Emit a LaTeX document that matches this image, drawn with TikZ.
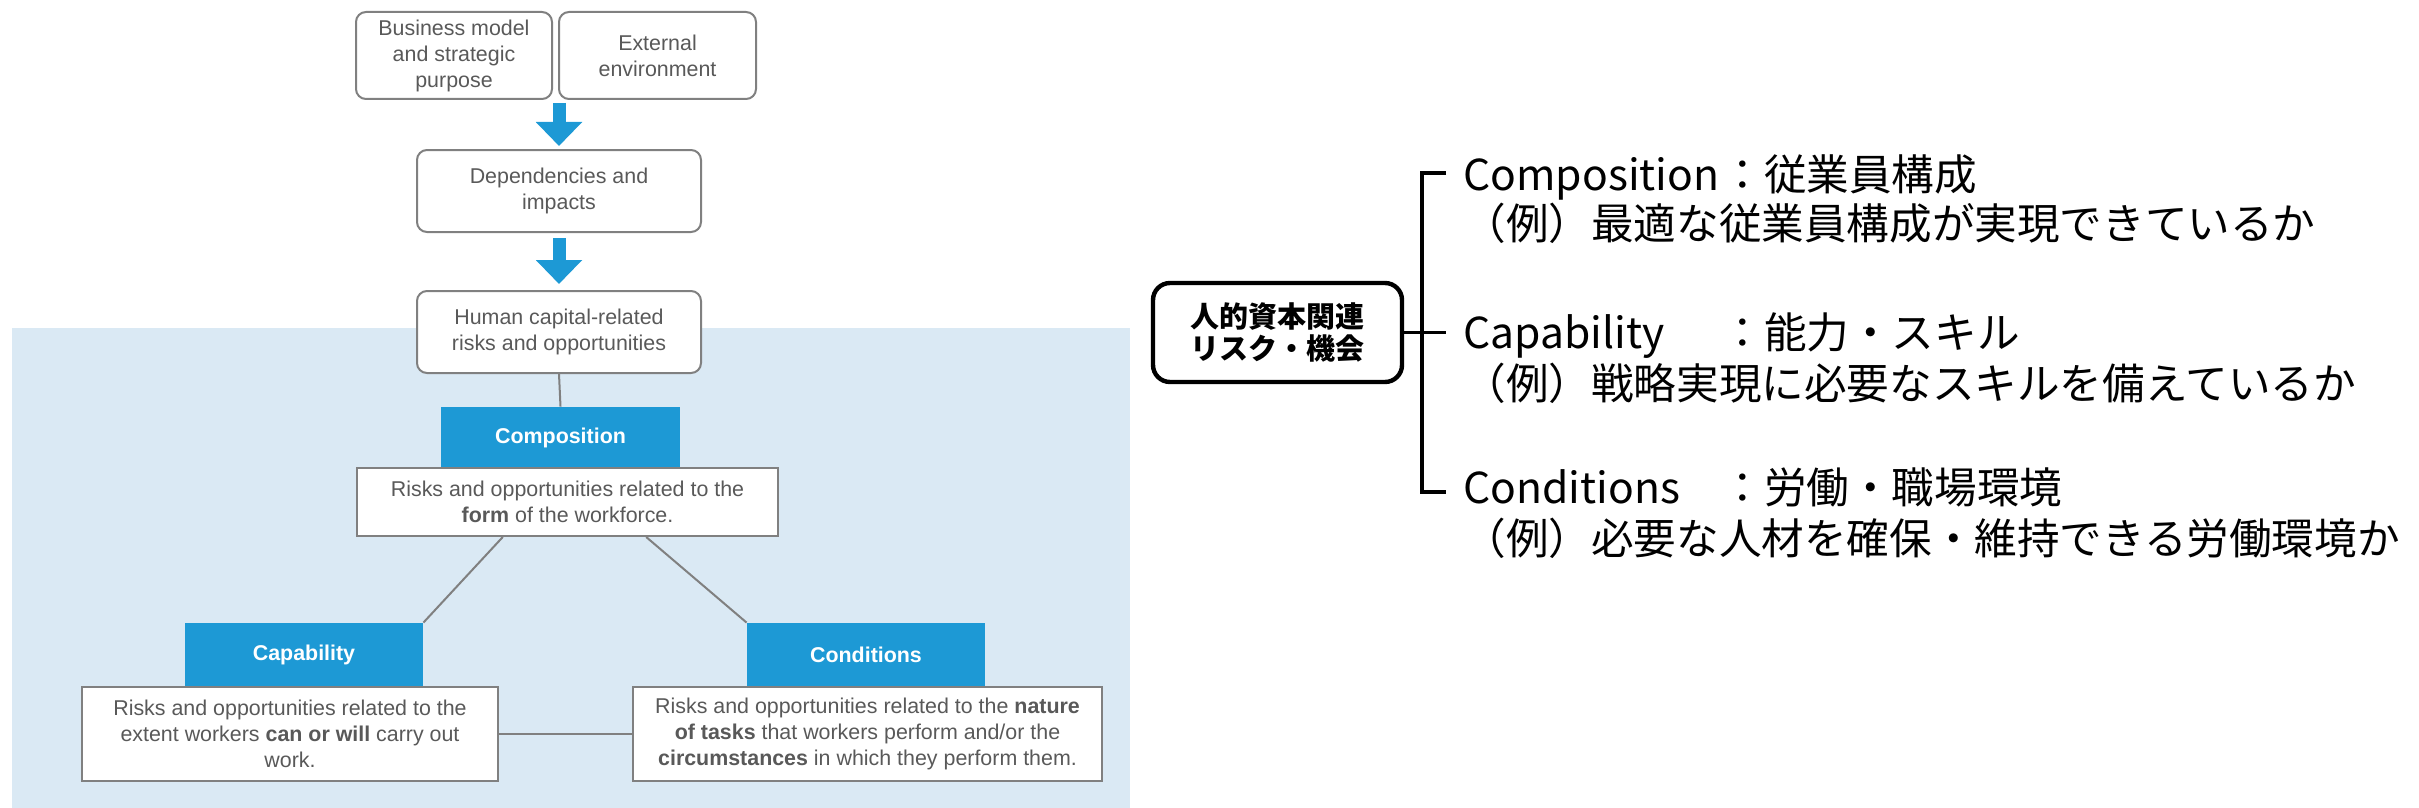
\documentclass[tikz,border=0pt]{standalone}
\usepackage{fontspec}
\setmainfont{Liberation Sans}
\newfontfamily\jpfont{Noto Sans CJK JP}
\usetikzlibrary{positioning,calc,arrows.meta}
\definecolor{headblue}{RGB}{29,153,213}
\definecolor{paleblue}{RGB}{218,233,244}
\definecolor{txtgray}{RGB}{89,89,89}
\definecolor{linegray}{RGB}{128,128,128}
\newcommand\PX{0.5pt}
\newcommand\LW{129pt}
\tikzset{
  topbox/.style={draw=linegray, line width=1pt, rounded corners=5pt, fill=white, text=txtgray, align=center, inner sep=0pt},
  headbox/.style={fill=headblue, text=white, font=\fontsize{10.7}{13}\selectfont\bfseries, inner sep=0pt},
  descbox/.style={draw=linegray, line width=1pt, fill=white, text=txtgray, align=center, inner sep=0pt},
  link/.style={draw=linegray, line width=1pt},
  flowarrow/.style={draw=headblue, line width=6.5pt, -{Triangle[width=22.5pt,length=12pt]}},
  riskbox/.style={draw=black, line width=2.2pt, rounded corners=8.5pt, fill=white, align=center, inner sep=0pt, font=\jpfont\bfseries\fontsize{14.5}{16}\selectfont},
  bracket/.style={draw=black, line width=1.6pt},
  jptext/.style={anchor=base west, inner sep=0pt, font=\jpfont\fontsize{21.3}{25}\selectfont},
}
\begin{document}
\begin{tikzpicture}[x=\PX, y=-\PX, font=\fontsize{10.7}{13}\selectfont]

  \useasboundingbox (0,0) rectangle (2419,808);
  \fill[paleblue] (12,328) rectangle (1130,808);

  % flow at the top
  \node[topbox, minimum width=196*\PX, minimum height=87*\PX] (bizmodel) at (454,55.5) {Business model\\and strategic\\purpose};
  \node[topbox, minimum width=197*\PX, minimum height=87*\PX, right=2.5pt of bizmodel] (envbox) {External\\environment};
  \node[topbox, minimum width=284*\PX, minimum height=82*\PX] (depbox) at (559,191) {Dependencies and\\impacts};
  \node[topbox, minimum width=284*\PX, minimum height=82*\PX, below=28.5pt of depbox] (hcbox) {Human capital-related\\risks and opportunities};

  \coordinate (topgap) at ($(bizmodel.south east)!0.5!(envbox.south west)$);
  \draw[flowarrow, shorten <=1.5pt, shorten >=1.5pt] (topgap -| depbox.north) -- (depbox.north);
  \draw[flowarrow, shorten <=2.5pt, shorten >=3pt] (depbox.south) -- (hcbox.north);

  % the three themes
  \node[headbox, minimum width=239*\PX, minimum height=61*\PX] (comphead) at (560.5,437.5) {Composition};
  \node[descbox, minimum width=421*\PX, minimum height=68*\PX] (compdesc) at (567.5,502) {Risks and opportunities related to the\\\textbf{form} of the workforce.};
  \node[headbox, minimum width=238*\PX, minimum height=64*\PX] (caphead) at (304,655) {Capability};
  \node[descbox, minimum width=416*\PX, minimum height=94*\PX] (capdesc) at (290,734) {Risks and opportunities related to the\\extent workers \textbf{can or will} carry out\\work.};
  \node[headbox, minimum width=238*\PX, minimum height=64*\PX] (condhead) at (866,655) {Conditions};
  \node[descbox, minimum width=469*\PX, minimum height=94*\PX] (conddesc) at (867.5,734) {Risks and opportunities related to the \textbf{nature}\\\textbf{of tasks} that workers perform and/or the\\\textbf{circumstances} in which they perform them.};

  \draw[link] (hcbox.south) -- (comphead.north);
  \draw[link] ($(compdesc.south west)!0.347!(compdesc.south east)$) -- (caphead.north east);
  \draw[link] ($(compdesc.south west)!0.686!(compdesc.south east)$) -- (condhead.north west);
  \draw[link] (capdesc) -- (conddesc);

  % japanese summary
  \node[riskbox, minimum width=249*\PX, minimum height=99*\PX] (hrrisk) at (1277.5,332.5) {人的資本関連\\リスク・機会};
  \coordinate (brtop) at (1446,173);
  \coordinate (brbot) at (1446,492);
  \draw[bracket] (brtop) -- ++(-24,0) |- (brbot);
  \draw[bracket] (hrrisk.east) -- (hrrisk.east -| brtop);

  \node[jptext] (compline) at (1463,191) {\makebox[\LW][l]{Composition}：従業員構成};
  \node[jptext] (compex) at (1463,239) {（例）最適な従業員構成が実現できているか};
  \node[jptext] (capline) at (1463,348) {\makebox[\LW][l]{Capability}：能力・スキル};
  \node[jptext] (capex) at (1463,399) {（例）戦略実現に必要なスキルを備えているか};
  \node[jptext] (condline) at (1463,503) {\makebox[\LW][l]{Conditions}：労働・職場環境};
  \node[jptext] (condex) at (1463,554) {（例）必要な人材を確保・維持できる労働環境か};

\end{tikzpicture}
\end{document}
